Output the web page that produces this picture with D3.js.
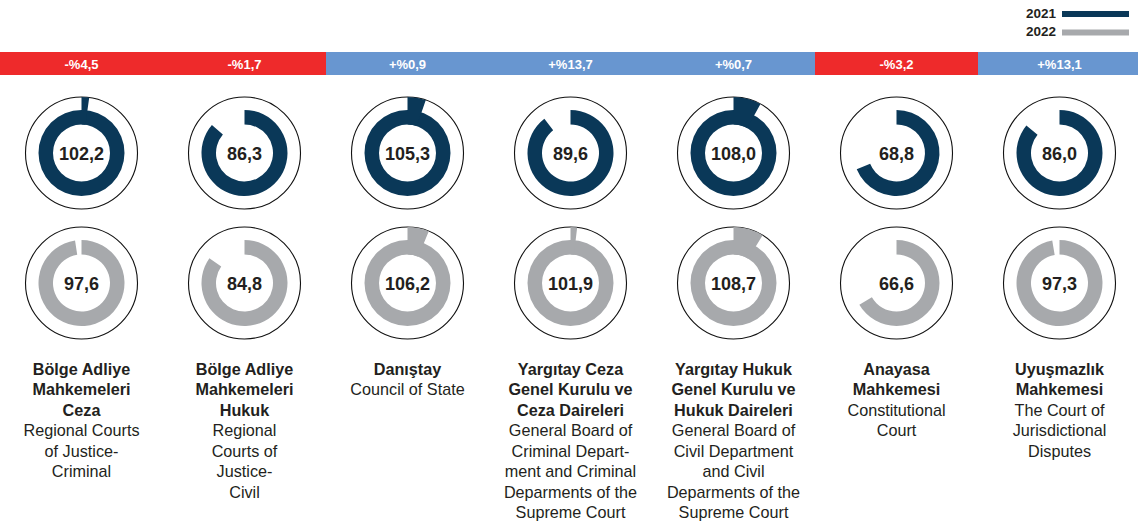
<!DOCTYPE html>
<html>
<head>
<meta charset="utf-8">
<script src="https://cdn.jsdelivr.net/npm/d3@7"></script>
<style>
  html, body { margin: 0; padding: 0; background: #fff; }
  svg { display: block; }
  text { font-family: "Liberation Sans", Arial, Helvetica, sans-serif; }
</style>
</head>
<body>
<svg id="chart" width="1138" height="522"></svg>
<script>
// ---------- DATA ----------
const categories = ["BAM Ceza", "BAM Hukuk", "Danıştay", "Yargıtay Ceza", "Yargıtay Hukuk", "Anayasa", "Uyuşmazlık"];
const values2021 = [102.2, 86.3, 105.3, 89.6, 108.0, 68.8, 86.0];
const values2022 = [97.6, 84.8, 106.2, 101.9, 108.7, 66.6, 97.3];
const changeValues = [-4.5, -1.7, 0.9, 13.7, 0.7, -3.2, 13.1];
const changeLabels = ["-%4,5", "-%1,7", "+%0,9", "+%13,7", "+%0,7", "-%3,2", "+%13,1"];
const titleBoldLines = [
  ["Bölge Adliye", "Mahkemeleri", "Ceza"],
  ["Bölge Adliye", "Mahkemeleri", "Hukuk"],
  ["Danıştay"],
  ["Yargıtay Ceza", "Genel Kurulu ve", "Ceza Daireleri"],
  ["Yargıtay Hukuk", "Genel Kurulu ve", "Hukuk Daireleri"],
  ["Anayasa", "Mahkemesi"],
  ["Uyuşmazlık", "Mahkemesi"]
];
const titleEnLines = [
  ["Regional Courts", "of Justice-", "Criminal"],
  ["Regional", "Courts of", "Justice-", "Civil"],
  ["Council of State"],
  ["General Board of", "Criminal Depart-", "ment and Criminal", "Deparments of the", "Supreme Court"],
  ["General Board of", "Civil Department", "and Civil", "Deparments of the", "Supreme Court"],
  ["Constitutional", "Court"],
  ["The Court of", "Jurisdictional", "Disputes"]
];
const legendYears = ["2021", "2022"];

// ---------- STYLE ----------
const colNavy = "#0a3858";
const colGrey = "#a7a9ac";
const colRed = "#ee2a2b";
const colBlue = "#6896d0";
const textCol = "#231f20";

const W = 1138, H = 522;
const svg = d3.select("#chart");

const x = d3.scaleBand().domain(categories).range([0, 1141]).paddingInner(0).paddingOuter(0);
const angle = d3.scaleLinear().domain([0, 100]).range([0, 2 * Math.PI]);
const yearColor = d3.scaleOrdinal().domain(legendYears).range([colNavy, colGrey]);

const circleR = 56, ringOuter = 43, ringInner = 28.5;
const rowY = [153, 283];

// ---------- LEGEND ----------
const legend = svg.append("g");
legendYears.forEach((yr, i) => {
  const yb = [17.5, 36][i];
  legend.append("text")
    .attr("x", 1056).attr("y", yb)
    .attr("text-anchor", "end")
    .attr("font-size", 13.5).attr("font-weight", "bold")
    .attr("fill", textCol)
    .text(yr);
  legend.append("rect")
    .attr("x", 1062).attr("y", yb - 6.5)
    .attr("width", 67).attr("height", 6)
    .attr("fill", yearColor(yr));
});

// ---------- HEADER BAR ----------
const header = svg.append("g");
categories.forEach((c, i) => {
  const x0 = x(c);
  const w = Math.min(x.bandwidth(), W - x0);
  header.append("rect")
    .attr("x", x0).attr("y", 52)
    .attr("width", w + (i < categories.length - 1 ? 0.5 : 0)).attr("height", 23)
    .attr("fill", changeValues[i] < 0 ? colRed : colBlue);
  header.append("text")
    .attr("x", x0 + x.bandwidth() / 2).attr("y", 68.5)
    .attr("text-anchor", "middle")
    .attr("font-size", 13).attr("font-weight", "bold")
    .attr("fill", "#fff")
    .text(changeLabels[i]);
});

// ---------- DONUTS ----------
const ringArc = d3.arc().innerRadius(ringInner).outerRadius(ringOuter);
const tabArc = d3.arc().innerRadius(ringInner).outerRadius(circleR);

function drawDonut(g, v, color) {
  g.append("circle")
    .attr("r", circleR)
    .attr("fill", "#fff")
    .attr("stroke", "#111").attr("stroke-width", 1.1);
  const main = Math.min(v, 100);
  g.append("path")
    .attr("d", ringArc({ startAngle: 0, endAngle: angle(main) }))
    .attr("fill", color);
  if (v > 100) {
    g.append("path")
      .attr("d", tabArc({ startAngle: 0, endAngle: angle(v - 100) }))
      .attr("fill", color);
  }
  g.append("text")
    .attr("y", 6.5)
    .attr("text-anchor", "middle")
    .attr("font-size", 18).attr("font-weight", "bold")
    .attr("fill", textCol)
    .text(d3.format(".1f")(v).replace(".", ","));
}

categories.forEach((c, i) => {
  const cx = x(c) + x.bandwidth() / 2;
  drawDonut(svg.append("g").attr("transform", `translate(${cx},${rowY[0]})`), values2021[i], yearColor("2021"));
  drawDonut(svg.append("g").attr("transform", `translate(${cx},${rowY[1]})`), values2022[i], yearColor("2022"));
});

// ---------- LABELS ----------
const lineH = 20.5;
const firstBase = 374.5;
categories.forEach((c, i) => {
  const cx = x(c) + x.bandwidth() / 2;
  const t = svg.append("text")
    .attr("x", cx).attr("y", firstBase)
    .attr("text-anchor", "middle")
    .attr("font-size", 16.2)
    .attr("fill", textCol);
  let k = 0;
  titleBoldLines[i].forEach(l => {
    t.append("tspan").attr("x", cx).attr("y", firstBase + k * lineH)
      .attr("font-weight", "bold").text(l);
    k++;
  });
  titleEnLines[i].forEach(l => {
    t.append("tspan").attr("x", cx).attr("y", firstBase + k * lineH)
      .text(l);
    k++;
  });
});
</script>
</body>
</html>
